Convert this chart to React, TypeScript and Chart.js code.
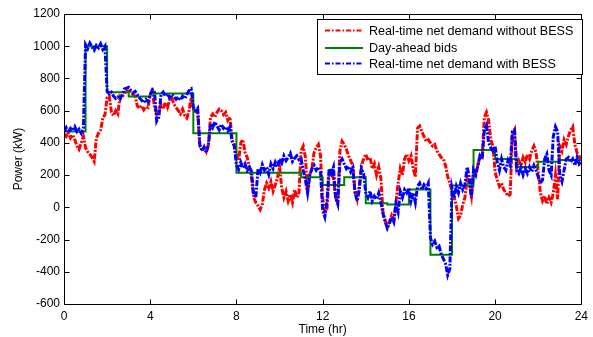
import React, { useEffect, useRef } from 'react';
import { Chart, registerables } from 'chart.js';

Chart.register(...registerables);

// Sampling interval of the real-time series (hours)
const STEP_HR = 0.1;

// Hourly day-ahead bids (kW), hour 0 .. 23
const dayAheadBids = [470, 1000, 715, 688, 707, 707, 460, 460, 215, 215, 215, 186, 138, 186, 25, 17, 110, -295, 136, 356, 300, 250, 283, 294];

// Real-time net demand with BESS (kW), every 0.1 h from 0 to 24
const withBess = [
  470, 495, 465, 490, 475, 500, 470, 485, 460, 490,
  1010, 985, 1020, 995, 975, 1005, 990, 1015, 980, 1000,
  720, 705, 715, 690, 675, 685, 670, 700, 735, 740,
  745, 725, 710, 720, 700, 680, 665, 650, 670, 655,
  700, 730, 715, 535, 560, 700, 715, 690, 705, 680,
  700, 690, 670, 685, 665, 690, 675, 700, 725, 735,
  620, 600, 615, 390, 350, 375, 340, 385, 520, 495,
  530, 505, 480, 515, 490, 500, 475, 500, 410, 380,
  260, 235, 280, 245, 270, 230, 250, 225, 80, 60,
  240, 215, 265, 230, 250, 205, 270, 240, 280, 250,
  300, 275, 320, 290, 310, 335, 285, 305, 320, 295,
  300, 230, 170, 90, 200, 240, 260, 230, 250, 220,
  -20, -60, 40, 240, 210, 250, 60, 20, 280, 300,
  270, 240, 255, 220, 245, 90, 40, 110, 240, 210,
  90, 60, 100, 40, 70, 50, 90, 30, -40, -90,
  -130, -100, -60, -90, 20, -30, 100, 60, 110, 90,
  120, 40, 90, 30, 130, 150, 110, 140, 120, 150,
  -190, -230, -210, -250, -240, -290, -320, -350, -420, -380,
  120, 60, 130, 90, 150, 110, 140, 250, 190, 60,
  230, 200, 260, 320, 300, 480, 510, 400, 370, 350,
  380, 280, 230, 300, 250, 230, 290, 260, 470, 480,
  230, 210, 250, 200, 240, 210, 250, 220, 260, 230,
  190, 150, 170, 300, 330, 230, 200, 440, 500, 470,
  200, 160, 230, 300, 310, 280, 300, 260, 310, 270,
  290,
];

// Real-time net demand without BESS (kW), every 0.1 h from 0 to 24
const withoutBess = [
  455, 440, 465, 430, 450, 420, 380, 360, 400, 440,
  370, 345, 330, 310, 285, 430, 460, 480, 555, 575,
  680, 690, 590, 570, 600, 580, 690, 680, 710, 720,
  730, 715, 700, 690, 630, 615, 630, 605, 625, 620,
  700, 720, 620, 580, 600, 640, 610, 650, 620, 670,
  680, 640, 620, 600, 580, 610, 570, 555, 600, 680,
  610, 595, 600, 380, 360, 370, 345, 390, 560, 580,
  560, 590, 610, 600, 575, 590, 540, 560, 420, 390,
  330, 290, 400, 420, 340, 310, 250, 180, 60, 30,
  10, -15, 20, 110, 150, 120, 160, 100, 140, 180,
  250, 120, 60, 100, 40, 80, 30, 110, 60, 90,
  350, 380, 310, 90, 200, 240, 340, 370, 390, 320,
  60, -40, -10, 200, 230, 180, 60, 30, 350, 410,
  390, 360, 320, 290, 260, 100, 50, 140, 260, 300,
  330, 290, 310, 240, 270, 200, 250, 180, -30, -80,
  -120, -90, -50, -80, 30, 150, 240, 200, 300, 330,
  290, 320, 240, 190, 490, 505, 470, 440, 410, 420,
  400, 380, 390, 350, 330, 310, 300, 260, 190, 150,
  100, 60, 10, -70, -50, 20, 60, 180, 140, 70,
  230, 210, 260, 320, 310, 560, 590, 540, 420, 380,
  220, 170, 130, 150, 110, 90, 70, 80, 450, 480,
  250, 290, 260, 310, 280, 330, 300, 350, 380, 340,
  220, 90, 40, 70, 20, 60, 30, 90, 200, 50,
  380, 350, 420, 390, 440, 480, 500, 390, 340, 300,
  320,
];

const xTickValues = [0, 4, 8, 12, 16, 20, 24];
const yTickValues = [-600, -400, -200, 0, 200, 400, 600, 800, 1000, 1200];

const legendLabels = [
  'Real-time net demand without BESS',
  'Day-ahead bids',
  'Real-time net demand with BESS',
];

const RED = '#ff0000';
const GREEN = '#008000';
const BLUE = '#0000ff';
const DASH = [5, 2, 1.5, 2];
const DATA_DASH = [6, 1.5, 2, 1.5];
const FONT = '"Liberation Sans", Arial, Helvetica, sans-serif';

const framePlugin = {
  id: 'matlabFrame',
  afterDraw(chart: any) {
    const { ctx, chartArea, scales } = chart;
    const { left, top, right, bottom } = chartArea;
    ctx.save();
    ctx.strokeStyle = '#000';
    ctx.lineWidth = 1;
    ctx.setLineDash([]);
    const L = Math.round(left) + 0.5;
    const T = Math.round(top) + 0.5;
    const R = Math.round(right) + 0.5;
    const B = Math.round(bottom) + 0.5;
    ctx.beginPath();
    ctx.rect(L, T, R - L, B - T);
    ctx.stroke();
    ctx.beginPath();
    xTickValues.forEach((v) => {
      const px = Math.round(scales.x.getPixelForValue(v)) + 0.5;
      ctx.moveTo(px, B);
      ctx.lineTo(px, B - 5);
      ctx.moveTo(px, T);
      ctx.lineTo(px, T + 5);
    });
    yTickValues.forEach((v) => {
      const py = Math.round(scales.y.getPixelForValue(v)) + 0.5;
      ctx.moveTo(L, py);
      ctx.lineTo(L + 5, py);
      ctx.moveTo(R, py);
      ctx.lineTo(R - 5, py);
    });
    ctx.stroke();

    // legend box
    const bx = 317.5, by = 19.5, bw = 265, bh = 55;
    ctx.fillStyle = '#fff';
    ctx.fillRect(bx, by, bw, bh);
    ctx.strokeStyle = '#000';
    ctx.strokeRect(bx, by, bw, bh);
    const rows = [30.5, 48, 63.5];
    const colors = [RED, GREEN, BLUE];
    ctx.font = `12.6px ${FONT}`;
    ctx.textBaseline = 'middle';
    ctx.textAlign = 'left';
    rows.forEach((ry, i) => {
      ctx.strokeStyle = colors[i];
      ctx.lineWidth = 2;
      ctx.setLineDash(i === 1 ? [] : DASH);
      ctx.beginPath();
      ctx.moveTo(325, ry);
      ctx.lineTo(363, ry);
      ctx.stroke();
      ctx.fillStyle = '#000';
      ctx.fillText(legendLabels[i], 369, ry + 1);
    });
    ctx.restore();
  },
};

export default function App() {
  const canvasRef = useRef<HTMLCanvasElement | null>(null);

  useEffect(() => {
    const canvas = canvasRef.current;
    if (!canvas) return;
    const toPoints = (arr: number[]) => arr.map((v, i) => ({ x: Math.round(i * STEP_HR * 10) / 10, y: v }));
    const bidPoints = dayAheadBids.map((v, h) => ({ x: h, y: v }));
    bidPoints.push({ x: 24, y: dayAheadBids[dayAheadBids.length - 1] });

    const chart = new Chart(canvas, {
      type: 'line',
      data: {
        datasets: [
          {
            label: legendLabels[0],
            data: toPoints(withoutBess),
            borderColor: RED,
            borderWidth: 3,
            borderDash: DATA_DASH,
            pointRadius: 0,
            tension: 0,
            order: 3,
          },
          {
            label: legendLabels[1],
            data: bidPoints,
            borderColor: GREEN,
            borderWidth: 2,
            pointRadius: 0,
            stepped: true,
            order: 2,
          },
          {
            label: legendLabels[2],
            data: toPoints(withBess),
            borderColor: BLUE,
            borderWidth: 3,
            borderDash: DATA_DASH,
            pointRadius: 0,
            tension: 0,
            order: 1,
          },
        ],
      },
      options: {
        animation: false,
        responsive: false,
        devicePixelRatio: 1,
        layout: { padding: { left: 0, right: 9, top: 14, bottom: 0 } },
        plugins: {
          legend: { display: false },
          tooltip: { enabled: false },
        },
        scales: {
          x: {
            type: 'linear',
            min: 0,
            max: 24,
            afterFit: (scale: any) => { scale.height = 33; },
            afterBuildTicks: (scale: any) => { scale.ticks = xTickValues.map((v) => ({ value: v })); },
            grid: { display: false, drawTicks: false },
            border: { display: false },
            ticks: { color: '#000', font: { family: FONT, size: 12 }, padding: 5, maxRotation: 0, callback: (v: any) => String(v) },
            title: { display: true, text: 'Time (hr)', color: '#000', font: { family: FONT, size: 12 }, padding: { top: 0, bottom: 0 } },
          },
          y: {
            type: 'linear',
            min: -600,
            max: 1200,
            afterFit: (scale: any) => { scale.width = 64; },
            afterBuildTicks: (scale: any) => { scale.ticks = yTickValues.map((v) => ({ value: v })); },
            grid: { display: false, drawTicks: false },
            border: { display: false },
            ticks: { color: '#000', font: { family: FONT, size: 12 }, padding: 4, callback: (v: any) => String(v) },
            title: { display: true, text: 'Power (kW)', color: '#000', font: { family: FONT, size: 12 }, padding: { top: 11, bottom: 0 } },
          },
        },
      },
      plugins: [framePlugin],
    } as any);
    return () => chart.destroy();
  }, []);

  return (
    <div style={{ position: 'fixed', left: 0, top: 0, width: 593, height: 337, background: '#fff' }}>
      <canvas ref={canvasRef} width={593} height={337} style={{ display: 'block', width: 593, height: 337 }} />
    </div>
  );
}
